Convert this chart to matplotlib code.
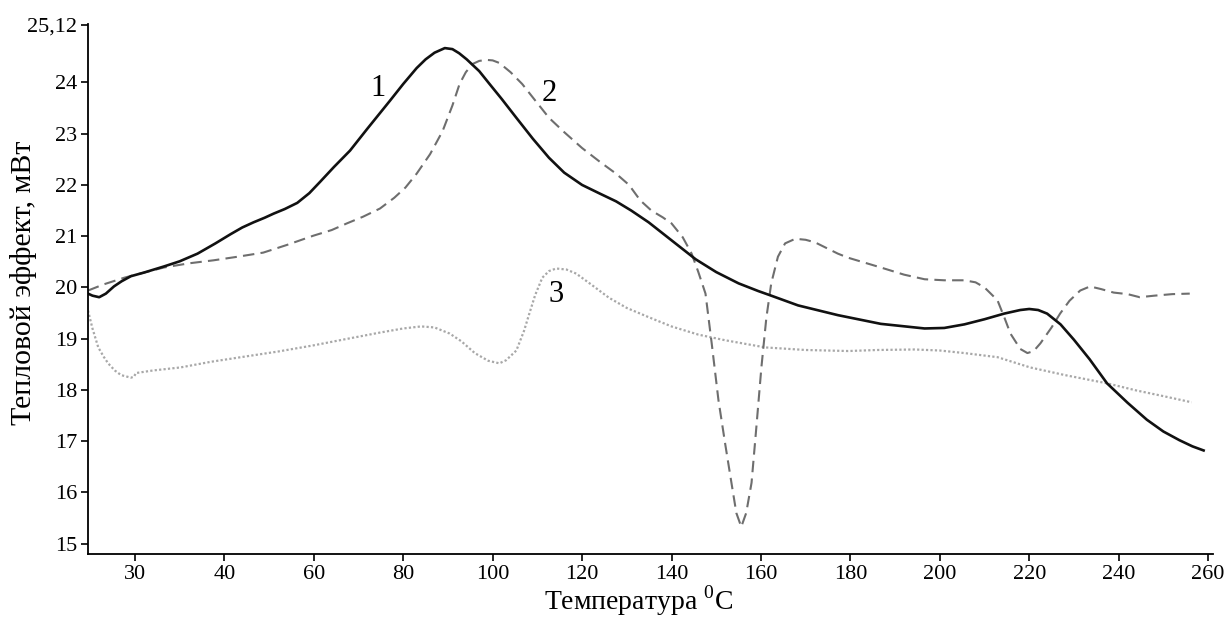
import matplotlib
matplotlib.use('Agg')
import matplotlib.pyplot as plt

# --- data (x in axis units; first tick is labelled "30") ---
x1 = [9.5, 10.5, 12, 13.5, 15.3, 17, 19.1, 22, 26.5, 30, 34, 38, 41.4, 44, 46.5, 49, 51,
      53.5, 56.3, 59, 61.4, 64.5, 68.1, 72, 77, 80, 83, 85, 87, 89.3, 91, 92.5, 94.2, 97,
      99.3, 102, 105.3, 109, 112.6, 116, 120, 124, 127.6, 131, 134.9, 140, 145.4, 150, 155,
      159.4, 162.3, 168.3, 177.2, 186.8, 196.6, 201, 205.5, 210, 214.4, 218, 220, 222, 224,
      227, 230, 233.5, 237.4, 242, 246.3, 250, 253.6, 256.5, 259]
y1 = [19.88, 19.84, 19.81, 19.88, 20.02, 20.12, 20.22, 20.29, 20.41, 20.51, 20.66, 20.86,
      21.04, 21.17, 21.27, 21.36, 21.44, 21.53, 21.65, 21.84, 22.06, 22.35, 22.67, 23.1,
      23.64, 23.97, 24.28, 24.45, 24.58, 24.67, 24.65, 24.57, 24.45, 24.22, 23.97, 23.68,
      23.31, 22.9, 22.53, 22.24, 22.0, 21.83, 21.68, 21.5, 21.27, 20.92, 20.55, 20.3,
      20.08, 19.93, 19.84, 19.65, 19.46, 19.29, 19.2, 19.21, 19.28, 19.38, 19.49, 19.56,
      19.58, 19.56, 19.49, 19.28, 18.98, 18.6, 18.13, 17.75, 17.42, 17.19, 17.02, 16.9, 16.82]

x2 = [9.5, 13, 17.6, 22, 26.5, 32, 37.6, 43, 48.7, 54, 59.9, 64, 67.4, 71, 74.8, 78, 80.5,
      83, 86, 88.8, 91, 92.6, 94, 95.5, 97, 98.6, 100, 101.5, 104, 106.6, 109.5, 112.6, 116,
      120, 124, 127.6, 130.5, 133, 135.5, 138, 140, 142.5, 144.5, 146, 147.6, 149, 150.5,
      152, 153.4, 154.5, 155.6, 156.7, 157.9, 159, 160.1, 161.2, 162.3, 163.8, 165.4, 167.7,
      170, 172.1, 177.2, 179.5, 186.8, 192, 196.6, 201, 205.5, 208, 210, 212.9, 214.5, 215.8,
      218, 219.6, 221, 222.5, 225, 226.9, 229, 231.4, 233.6, 236, 238.9, 242, 244.7, 248,
      252, 255.9]
y2 = [19.94, 20.06, 20.19, 20.29, 20.39, 20.47, 20.53, 20.6, 20.68, 20.83, 21.01, 21.12,
      21.25, 21.38, 21.54, 21.75, 21.95, 22.22, 22.6, 23.05, 23.55, 23.97, 24.2, 24.36,
      24.42, 24.44, 24.43, 24.38, 24.2, 23.97, 23.65, 23.31, 23.03, 22.72, 22.45, 22.22,
      22.0, 21.7, 21.5, 21.37, 21.25, 20.98, 20.66, 20.3, 19.88, 18.9, 17.8, 16.95, 16.19,
      15.6, 15.33, 15.6, 16.19, 17.3, 18.44, 19.4, 20.08, 20.6, 20.86, 20.95, 20.93, 20.88,
      20.66, 20.58, 20.39, 20.25, 20.16, 20.14, 20.14, 20.1, 20.0, 19.75, 19.4, 19.1, 18.8,
      18.72, 18.76, 18.91, 19.22, 19.49, 19.74, 19.94, 20.02, 19.97, 19.9, 19.87, 19.81,
      19.84, 19.87, 19.88]

x3 = [9.5, 10.5, 11.8, 13, 14, 15.5, 16.9, 19.1, 19.8, 20.2, 24, 30.2, 37, 45.2, 52, 59.9,
      67, 74.8, 80, 84, 87, 90.4, 93, 96, 99, 101.5, 103, 105.3, 107, 108.2, 109.5, 111.1,
      112.6, 114.2, 116.5, 118.7, 122, 126, 130, 134.9, 140, 146, 152, 161, 170, 179.5, 186,
      194.4, 200, 205.5, 212.9, 220.2, 228, 237.4, 244, 250, 256.3]
y3 = [19.55, 19.2, 18.83, 18.65, 18.52, 18.38, 18.29, 18.24, 18.26, 18.33, 18.38, 18.44,
      18.55, 18.66, 18.75, 18.87, 18.99, 19.12, 19.2, 19.24, 19.22, 19.1, 18.95, 18.72,
      18.57, 18.52, 18.58, 18.77, 19.15, 19.49, 19.85, 20.19, 20.32, 20.37, 20.35, 20.27,
      20.06, 19.8, 19.6, 19.42, 19.24, 19.08, 18.97, 18.83, 18.78, 18.76, 18.78, 18.79,
      18.77, 18.72, 18.64, 18.44, 18.29, 18.13, 17.99, 17.88, 17.76]

curve_labels = ['1', '2', '3']
label_pos = [(74.3, 23.88), (112.6, 23.78), (114.3, 19.86)]

xtick_pos = [20, 40, 60, 80, 100, 120, 140, 160, 180, 200, 220, 240, 260]
xtick_labels = ['30', '40', '60', '80', '100', '120', '140', '160', '180', '200', '220', '240', '260']
ytick_pos = [15, 16, 17, 18, 19, 20, 21, 22, 23, 24, 25.12]
ytick_labels = ['15', '16', '17', '18', '19', '20', '21', '22', '23', '24', '25,12']

plt.rcParams['font.family'] = 'serif'
plt.rcParams['font.serif'] = ['Liberation Serif', 'DejaVu Serif']
plt.rcParams['mathtext.fontset'] = 'custom'
plt.rcParams['mathtext.rm'] = 'Liberation Serif'

fig = plt.figure(figsize=(12.29, 6.24), dpi=100)
ax = fig.add_axes([88 / 1229, 1 - 554 / 624, 1125 / 1229, 530 / 624])

ax.plot(x3, y3, color='#a8a8a8', linestyle=(0, (1, 1)), linewidth=1.6)
ax.plot(x2, y2, color='#6e6e6e', linestyle=(0, (5.5, 3)), linewidth=1.5)
ax.plot(x1, y1, color='#111111', linestyle='-', linewidth=1.9)

for lab, (lx, ly) in zip(curve_labels, label_pos):
    ax.text(lx, ly, lab, fontsize=22, ha='center', va='center')

ax.set_xlim(9.5, 261.1)
ax.set_ylim(14.8, 25.14)
ax.set_xticks(xtick_pos)
ax.set_xticklabels(xtick_labels)
ax.set_yticks(ytick_pos)
ax.set_yticklabels(ytick_labels)
ax.tick_params(axis='both', labelsize=16, length=5, width=1.2, direction='out', pad=3)

for side in ['top', 'right']:
    ax.spines[side].set_visible(False)
for side in ['left', 'bottom']:
    ax.spines[side].set_linewidth(1.3)

ax.set_xlabel(r'Температура $^{0}$C', fontsize=20)
ax.xaxis.set_label_coords(0.489, -0.056)
ax.set_ylabel('Тепловой эффект, мВт', fontsize=21.5)
ax.yaxis.set_label_coords(-0.045, 0.511)

fig.savefig('out.png', dpi=100)
